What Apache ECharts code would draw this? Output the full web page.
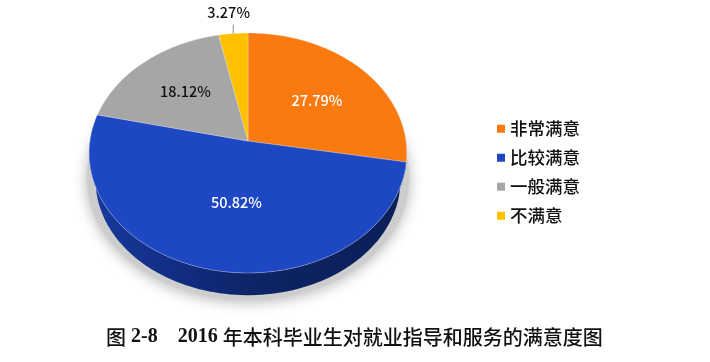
<!DOCTYPE html>
<html><head><meta charset="utf-8">
<style>html,body{margin:0;padding:0;background:#fff}#c{width:710px;height:362px}</style>
<script src="https://cdn.jsdelivr.net/npm/echarts@6/dist/echarts.min.js"></script>
</head><body><div id="c"></div>
<script>
const categories = ['非常满意','比较满意','一般满意','不满意'];
const values = [27.79, 50.82, 18.12, 3.27];
const colors = ['#FB7A10','#1E48C3','#A6A6A6','#FFC000'];
const labelColors = ['#fff','#fff','#111','#111'];
const captionParts = ['图',' ','2-8','    ','2016',' ','年本科毕业生对就业指导和服务的满意度图'];

// view: a perspective projection of the flat disc
const view = {cx:248, apexY:141, a:158, b:104.7, k:-0.1, depth:27, shrink:0.96, midY:153};
const ground = {depth:25, shrink:1.015};
const labelRadius = [0.68, 0.5, 0.6, 1.2];
const labelNudge = [[-10,9],[5,0],[1,-1],[-2,-2]];

const total = values.reduce((s,v)=>s+v,0);
const starts = values.map((_,i)=>values.slice(0,i).reduce((s,v)=>s+v,0));

function project(frac, r){
  const t = frac/total*2*Math.PI, u = r*Math.sin(t), v = -r*Math.cos(t), w = 1+view.k*v;
  return [view.cx + view.a*u/w, (view.apexY + view.b*v)/w];
}
function drop(p,d,sh){
  return [view.cx+(p[0]-view.cx)*sh, view.midY+(p[1]-view.midY)*sh+d];
}
const lower = p=>drop(p,view.depth,view.shrink);
const groundRim = p=>drop(p,ground.depth,ground.shrink);
function rim(from,to,fn){
  const n = Math.max(2,Math.ceil((to-from)*2)), pts=[];
  for(let i=0;i<=n;i++){const p=project(from+(to-from)*i/n,1);pts.push(fn?fn(p):p);}
  return pts;
}
const apex = [view.cx, view.apexY];

const sliceSeries = categories.map((name,i)=>({
  type:'custom', name, coordinateSystem:'none', silent:true, z:5,
  itemStyle:{color:colors[i]},
  data:[[starts[i],values[i]]],
  renderItem(params,api){
    const s=api.value(0), v=api.value(1), children=[];
    children.push({type:'polygon',shape:{points:[apex].concat(rim(s,s+v))},
      style:{fill:colors[i],stroke:'rgba(235,235,240,0.55)',lineWidth:0.6}});
    const mid=s+v/2, p=project(mid,labelRadius[i]), n=labelNudge[i];
    if(labelRadius[i]>1){
      const e=project(mid,1);
      children.push({type:'line',shape:{x1:e[0],y1:e[1],x2:e[0],y2:e[1]-9},style:{stroke:'#888',lineWidth:1}});
    }
    children.push({type:'text',x:p[0]+n[0],y:p[1]+n[1],z2:10,style:{
      text:v.toFixed(2)+'%',fill:labelColors[i],align:'center',verticalAlign:'middle',
      font:'500 14.5px "Noto Sans CJK SC"'}});
    return {type:'group',children};
  }
}));

// side wall and ground shadow of the front (blue) slice
const sideSeries = {
  type:'custom', name:'side', coordinateSystem:'none', silent:true, z:1,
  data:[[starts[1],values[1]]],
  renderItem(params,api){
    const s=api.value(0), v=api.value(1);
    const wall = rim(s,s+v).concat(rim(s,s+v,lower).reverse());
    return {type:'group',children:[
      {type:'polygon',shape:{points:rim(0,total,groundRim)},style:{fill:'#cdcdcd',shadowBlur:14,shadowColor:'rgba(0,0,0,0.30)',shadowOffsetY:2}},
      {type:'polygon',z2:2,shape:{points:wall},style:{fill:new echarts.graphic.LinearGradient(0,0,1,0,[
        {offset:0,color:'#173A9E'},{offset:0.3,color:'#112C80'},{offset:0.55,color:'#0D2363'},{offset:1,color:'#0B1F58'}])}}
    ]};
  }
};

const serif = '"Liberation Serif"', cjk = '"Noto Sans CJK SC"';
const chart = echarts.init(document.getElementById('c'),null,{renderer:'canvas'});
chart.setOption({
  animation:false, backgroundColor:'#fff',
  title:{text:captionParts.map(t=>/[\u4e00-\u9fff]/.test(t)?'{c|'+t+'}':'{l|'+t+'}').join(''),left:106,top:327,padding:0,
    textStyle:{rich:{
      c:{fontFamily:cjk,fontSize:20,fontWeight:500,color:'#111'},
      l:{fontFamily:serif,fontSize:20,fontWeight:'bold',color:'#111'}}}},
  legend:{data:categories,orient:'vertical',left:497,top:120,padding:0,itemWidth:8,itemHeight:8,itemGap:11.5,icon:'rect',
    selectedMode:false,textStyle:{fontFamily:cjk,fontSize:17.5,fontWeight:500,color:'#111'}},
  series:[sideSeries].concat(sliceSeries)
});
</script></body></html>
